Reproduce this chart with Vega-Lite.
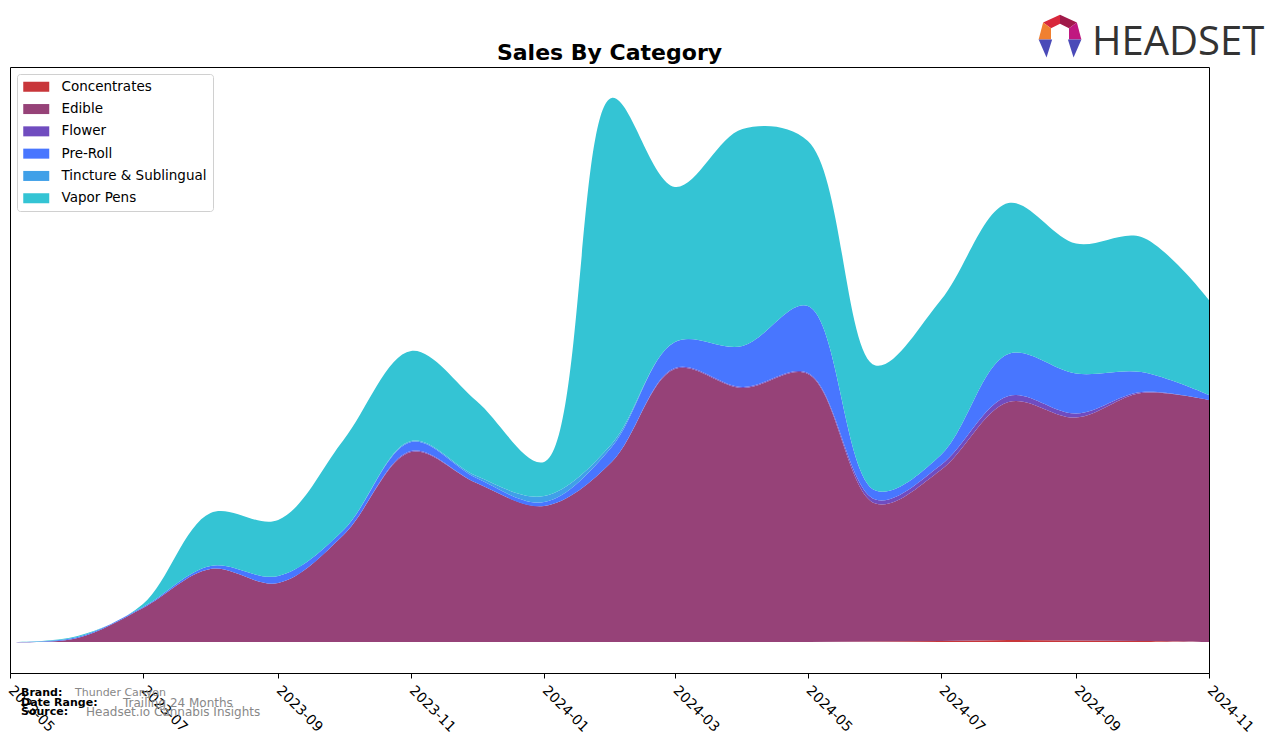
{
  "$schema": "https://vega.github.io/schema/vega-lite/v6.json",
  "width": 1199,
  "height": 606,
  "autosize": {"type": "none"},
  "padding": {"left": 10, "top": 67, "right": 67, "bottom": 70},
  "background": "white",
  "config": {"view": {"stroke": "black", "strokeWidth": 1}, "font": "DejaVu Sans"},
  "layer": [
    {
      "data": {"values": [
        {"month": "2023-05-01", "Concentrates": 0, "Edible": 0, "Flower": 0, "Pre-Roll": 0, "Tincture & Sublingual": 0, "Vapor Pens": 0},
        {"month": "2023-06-01", "Concentrates": 0, "Edible": 4, "Flower": 0, "Pre-Roll": 1, "Tincture & Sublingual": 0, "Vapor Pens": 1},
        {"month": "2023-07-01", "Concentrates": 0, "Edible": 34, "Flower": 0, "Pre-Roll": 1, "Tincture & Sublingual": 0, "Vapor Pens": 3},
        {"month": "2023-08-01", "Concentrates": 0, "Edible": 73, "Flower": 0, "Pre-Roll": 3, "Tincture & Sublingual": 0, "Vapor Pens": 53},
        {"month": "2023-09-01", "Concentrates": 0, "Edible": 59, "Flower": 0, "Pre-Roll": 7, "Tincture & Sublingual": 0, "Vapor Pens": 56},
        {"month": "2023-10-01", "Concentrates": 0, "Edible": 107, "Flower": 0, "Pre-Roll": 5, "Tincture & Sublingual": 0, "Vapor Pens": 90},
        {"month": "2023-11-01", "Concentrates": 0, "Edible": 190, "Flower": 1, "Pre-Roll": 9, "Tincture & Sublingual": 1, "Vapor Pens": 90},
        {"month": "2023-12-01", "Concentrates": 0, "Edible": 159, "Flower": 0, "Pre-Roll": 5, "Tincture & Sublingual": 2, "Vapor Pens": 75},
        {"month": "2024-01-01", "Concentrates": 0, "Edible": 136, "Flower": 0, "Pre-Roll": 4, "Tincture & Sublingual": 6, "Vapor Pens": 34},
        {"month": "2024-02-01", "Concentrates": 0, "Edible": 180, "Flower": 0, "Pre-Roll": 15, "Tincture & Sublingual": 3, "Vapor Pens": 346},
        {"month": "2024-03-01", "Concentrates": 0, "Edible": 273, "Flower": 1, "Pre-Roll": 26, "Tincture & Sublingual": 0, "Vapor Pens": 155},
        {"month": "2024-04-01", "Concentrates": 0, "Edible": 254, "Flower": 1, "Pre-Roll": 41, "Tincture & Sublingual": 0, "Vapor Pens": 217},
        {"month": "2024-05-01", "Concentrates": 0, "Edible": 268, "Flower": 1, "Pre-Roll": 67, "Tincture & Sublingual": 0, "Vapor Pens": 165},
        {"month": "2024-06-01", "Concentrates": 0.5, "Edible": 138, "Flower": 4, "Pre-Roll": 9, "Tincture & Sublingual": 0, "Vapor Pens": 125},
        {"month": "2024-07-01", "Concentrates": 1, "Edible": 171, "Flower": 5, "Pre-Roll": 10, "Tincture & Sublingual": 0, "Vapor Pens": 155},
        {"month": "2024-08-01", "Concentrates": 2, "Edible": 238, "Flower": 6, "Pre-Roll": 42, "Tincture & Sublingual": 0, "Vapor Pens": 151},
        {"month": "2024-09-01", "Concentrates": 1.5, "Edible": 223, "Flower": 4, "Pre-Roll": 40, "Tincture & Sublingual": 0, "Vapor Pens": 130},
        {"month": "2024-10-01", "Concentrates": 1, "Edible": 248, "Flower": 1, "Pre-Roll": 20, "Tincture & Sublingual": 0, "Vapor Pens": 135},
        {"month": "2024-11-01", "Concentrates": 0, "Edible": 242, "Flower": 0, "Pre-Roll": 5, "Tincture & Sublingual": 0, "Vapor Pens": 95}
      ]},
      "transform": [
        {"fold": ["Concentrates", "Edible", "Flower", "Pre-Roll", "Tincture & Sublingual", "Vapor Pens"], "as": ["category", "sales"]}
      ],
      "mark": {"type": "area", "interpolate": "catmull-rom", "opacity": 1},
      "encoding": {
        "x": {
          "field": "month", "type": "temporal",
          "scale": {"type": "utc", "nice": false},
          "axis": {
            "title": null, "grid": false, "format": "%Y-%m",
            "tickCount": {"interval": "month", "step": 2},
            "labelAngle": 45, "labelAlign": "left", "labelBaseline": "middle",
            "labelFontSize": 14, "labelFont": "DejaVu Sans", "labelColor": "black",
            "labelPadding": 10, "labelFlush": false, "labelOverlap": false,
            "domainColor": "black", "tickColor": "black", "tickSize": 5
          }
        },
        "y": {
          "field": "sales", "type": "quantitative", "stack": "zero",
          "scale": {"domain": [-31, 575], "nice": false, "zero": false},
          "axis": null
        },
        "color": {
          "field": "category", "type": "nominal",
          "scale": {
            "domain": ["Concentrates", "Edible", "Flower", "Pre-Roll", "Tincture & Sublingual", "Vapor Pens"],
            "range": ["#C8363A", "#964278", "#704CBF", "#4876FF", "#40A0E8", "#34C4D4"]
          },
          "legend": {
            "title": null, "orient": "top-left", "offset": 7, "padding": 6,
            "strokeColor": "#d0d0d0", "fillColor": "white", "cornerRadius": 3,
            "symbolType": "M-1,-0.77H3V0.77H-1Z", "symbolSize": 169, "symbolStrokeWidth": 0, "symbolOpacity": 1,
            "labelFontSize": 13.5, "labelFont": "DejaVu Sans", "labelColor": "black",
            "labelOffset": 25, "rowPadding": 7.3
          }
        },
        "order": {"field": "category", "sort": "ascending"}
      }
    },
    {"data": {"values": [{}]}, "mark": {"type": "text", "text": "Sales By Category", "x": 599.5, "y": -7, "align": "center", "baseline": "alphabetic", "fontWeight": "bold", "fontSize": 22, "font": "DejaVu Sans", "color": "black"}},
    {"data": {"values": [{}]}, "mark": {"type": "text", "text": "Brand:", "x": 11, "y": 626, "align": "left", "baseline": "middle", "fontWeight": "bold", "fontSize": 11, "font": "DejaVu Sans", "color": "black"}},
    {"data": {"values": [{}]}, "mark": {"type": "text", "text": "Thunder Canyon", "x": 65, "y": 626, "align": "left", "baseline": "middle", "fontSize": 11, "font": "DejaVu Sans", "color": "#888888"}},
    {"data": {"values": [{}]}, "mark": {"type": "text", "text": "Date Range:", "x": 11, "y": 636, "align": "left", "baseline": "middle", "fontWeight": "bold", "fontSize": 11, "font": "DejaVu Sans", "color": "black"}},
    {"data": {"values": [{}]}, "mark": {"type": "text", "text": "Trailing 24 Months", "x": 113, "y": 636, "align": "left", "baseline": "middle", "fontSize": 12, "font": "DejaVu Sans", "color": "#888888"}},
    {"data": {"values": [{}]}, "mark": {"type": "text", "text": "Source:", "x": 11, "y": 645, "align": "left", "baseline": "middle", "fontWeight": "bold", "fontSize": 11, "font": "DejaVu Sans", "color": "black"}},
    {"data": {"values": [{}]}, "mark": {"type": "text", "text": "Headset.io Cannabis Insights", "x": 76, "y": 645, "align": "left", "baseline": "middle", "fontSize": 12, "font": "DejaVu Sans", "color": "#888888"}},
    {"data": {"values": [{}]}, "mark": {"type": "text", "text": "HEADSET", "x": 1082, "y": -12, "align": "left", "baseline": "alphabetic", "fontSize": 40, "font": "Open Sans", "color": "#333333"}},
    {"data": {"values": [{}]}, "mark": {"type": "point", "filled": true, "opacity": 1, "x": 1050, "y": -31, "size": 2025, "shape": "M-0.75,-0.6L0,-0.95L0,-0.55L-0.4,-0.35Z", "fill": "#D8283C", "strokeWidth": 0}},
    {"data": {"values": [{}]}, "mark": {"type": "point", "filled": true, "opacity": 1, "x": 1050, "y": -31, "size": 2025, "shape": "M0,-0.95L0.75,-0.6L0.4,-0.35L0,-0.55Z", "fill": "#A01A4A", "strokeWidth": 0}},
    {"data": {"values": [{}]}, "mark": {"type": "point", "filled": true, "opacity": 1, "x": 1050, "y": -31, "size": 2025, "shape": "M-0.75,-0.6L-0.4,-0.35L-0.4,0.15L-0.95,0.15Z", "fill": "#F08030", "strokeWidth": 0}},
    {"data": {"values": [{}]}, "mark": {"type": "point", "filled": true, "opacity": 1, "x": 1050, "y": -31, "size": 2025, "shape": "M0.75,-0.6L0.95,0.15L0.4,0.15L0.4,-0.35Z", "fill": "#C01880", "strokeWidth": 0}},
    {"data": {"values": [{}]}, "mark": {"type": "point", "filled": true, "opacity": 1, "x": 1050, "y": -31, "size": 2025, "shape": "M-0.95,0.15L-0.35,0.15L-0.6,0.95Z", "fill": "#4A4AB8", "strokeWidth": 0}},
    {"data": {"values": [{}]}, "mark": {"type": "point", "filled": true, "opacity": 1, "x": 1050, "y": -31, "size": 2025, "shape": "M0.35,0.15L0.95,0.15L0.6,0.95Z", "fill": "#4A4AB8", "strokeWidth": 0}}
  ]
}
